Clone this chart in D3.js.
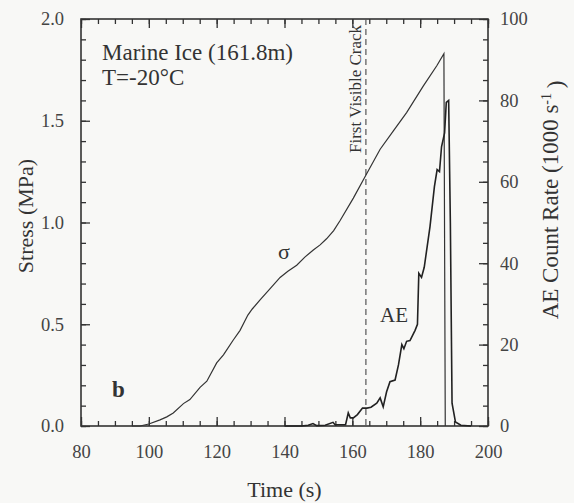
<!DOCTYPE html>
<html>
<head>
<meta charset="utf-8">
<script src="https://cdn.jsdelivr.net/npm/d3@7"></script>
<style>
    body { margin: 0; background: #f8f8f6; }
</style>
</head>
<body>
<div id="chart"></div>
<script>
// stress curve (MPa)
let stress_time  = [95, 97.4, 100, 103.3, 105.3, 107.2, 110.2, 112.1, 115.1, 117.1, 120, 122, 124.8, 126.9, 129.2, 130.5, 132.8, 135.5, 138.7, 141, 143.6, 146, 148.5, 150.5, 152.4, 154.5, 156.4, 160.3, 163.9, 168.2, 172.1, 176, 180.9, 184.9, 187, 187.4];
let stress_value = [0, 0, 0.01, 0.03, 0.045, 0.064, 0.11, 0.13, 0.19, 0.22, 0.31, 0.35, 0.42, 0.47, 0.545, 0.575, 0.62, 0.67, 0.73, 0.76, 0.79, 0.83, 0.865, 0.89, 0.92, 0.96, 1.01, 1.12, 1.23, 1.36, 1.45, 1.54, 1.67, 1.77, 1.83, 0];

// AE count rate (1000 s-1)
let ae_time  = [140, 145, 147, 148.4, 149.5, 152, 154.3, 154.9, 155.5, 158, 158.8, 159.4, 160.3, 161.5, 163, 164.3, 165.5, 167.2, 168.2, 169.1, 170.1, 171.1, 172.6, 173.6, 174.6, 175.2, 176, 177, 178.5, 179.2, 179.6, 180.4, 181.2, 182.9, 184.2, 185, 185.7, 186.3, 187.2, 187.7, 188.4, 188.9, 189.4, 190.4, 192, 195];
let ae_value = [0, 0, 0.2, 0.6, 0.1, 0.2, 0.9, 0.3, 0.3, 0.3, 3.2, 2, 2, 2.8, 4.4, 4.4, 4.6, 5.6, 6.9, 4.7, 8.4, 10.9, 11.3, 15, 20, 19, 20.8, 21, 23.5, 25, 37.5, 36.5, 39, 49, 58.8, 63, 62.5, 68.6, 72, 79.5, 80, 50, 5.6, 1, 0.2, 0];

let crack_time = 164;

// tick labels
let x_ticks = [80, 100, 120, 140, 160, 180, 200];
let y_left_ticks = [0, 0.5, 1.0, 1.5, 2.0];
let y_right_ticks = [0, 20, 40, 60, 80, 100];

let serif = "Liberation Serif";

let width = 574, height = 503;
let margin = {top: 19, right: 86, bottom: 77, left: 81};
let w_plot = width - margin.left - margin.right;
let h_plot = height - margin.top - margin.bottom;

let svg = d3.select("#chart").append("svg")
    .attr("width", width)
    .attr("height", height)
    .attr("font-family", serif);

let g = svg.append("g")
    .attr("transform", "translate(" + margin.left + "," + margin.top + ")");

let x = d3.scaleLinear().domain([80, 200]).range([0, w_plot]);
let y_left = d3.scaleLinear().domain([0, 2]).range([h_plot, 0]);
let y_right = d3.scaleLinear().domain([0, 100]).range([h_plot, 0]);

// minor ticks first, majors on top
function minor_ticks(axis, values) {
    return axis.tickValues(values).tickSize(-5).tickFormat("");
}

let x_minor = d3.range(80, 201, 5);
let yl_minor = d3.range(0, 2.01, 0.1);
let yr_minor = d3.range(0, 101, 5);

g.append("g").attr("transform", "translate(0," + h_plot + ")").call(minor_ticks(d3.axisBottom(x), x_minor));
g.append("g").call(minor_ticks(d3.axisTop(x), x_minor));
g.append("g").call(minor_ticks(d3.axisLeft(y_left), yl_minor));
g.append("g").attr("transform", "translate(" + w_plot + ",0)").call(minor_ticks(d3.axisRight(y_right), yr_minor));

g.append("g")
    .attr("transform", "translate(0," + h_plot + ")")
    .call(d3.axisBottom(x).tickValues(x_ticks).tickSize(-9).tickPadding(19).tickFormat(d3.format("d")));

g.append("g").call(d3.axisTop(x).tickValues(x_ticks).tickSize(-9).tickFormat(""));

g.append("g")
    .call(d3.axisLeft(y_left).tickValues(y_left_ticks).tickSize(-9).tickPadding(17).tickFormat(d3.format(".1f")));

g.append("g")
    .attr("transform", "translate(" + w_plot + ",0)")
    .call(d3.axisRight(y_right).tickValues(y_right_ticks).tickSize(-9).tickPadding(12).tickFormat(d3.format("d")));

g.selectAll(".domain").remove();
// d3 puts font-family="sans-serif" on each axis group
g.selectAll("g").attr("font-family", null);
g.selectAll(".tick line").attr("stroke", "#333").attr("stroke-width", 1.3);
g.selectAll(".tick text")
    .attr("font-family", serif)
    .attr("font-size", 18.5)
    .attr("fill", "#444");

// frame
g.append("rect")
    .attr("width", w_plot)
    .attr("height", h_plot)
    .attr("fill", "none")
    .attr("stroke", "#333")
    .attr("stroke-width", 1.6);

// first visible crack
g.append("line")
    .attr("x1", x(crack_time)).attr("x2", x(crack_time))
    .attr("y1", 0).attr("y2", h_plot)
    .attr("stroke", "#555")
    .attr("stroke-width", 1.2)
    .attr("stroke-dasharray", "6,4");

// curves
let stress_line = d3.line()
    .x(function (d, i) { return x(stress_time[i]); })
    .y(function (d) { return y_left(d); });

let ae_line = d3.line()
    .x(function (d, i) { return x(ae_time[i]); })
    .y(function (d) { return y_right(d); });

g.append("path")
    .datum(stress_value)
    .attr("d", stress_line)
    .attr("fill", "none")
    .attr("stroke", "#333")
    .attr("stroke-width", 1.2);

g.append("path")
    .datum(ae_value)
    .attr("d", ae_line)
    .attr("fill", "none")
    .attr("stroke", "#222")
    .attr("stroke-width", 1.6);

// annotations
function add_text(parent, x_pos, y_pos, size, label) {
    return parent.append("text")
        .attr("x", x_pos).attr("y", y_pos)
        .attr("fill", "#333")
        .attr("font-family", serif)
        .attr("font-size", size)
        .text(label);
}

add_text(g, 21, 41, 23, "Marine Ice (161.8m)");
add_text(g, 21, 66, 23, "T=-20\u00b0C");
add_text(g, 31, 378, 23, "b").attr("font-weight", "bold");
add_text(g, 197, 240, 22, "\u03c3");
add_text(g, 299, 303, 21, "AE");

add_text(g, 0, 0, 17, "First Visible Crack")
    .attr("transform", "translate(" + (x(crack_time) - 5) + "," + 134 + ") rotate(-90)");

// axis titles
add_text(svg, margin.left + w_plot / 2, 497, 22, "Time (s)")
    .attr("text-anchor", "middle");

add_text(svg, 0, 0, 22, "Stress (MPa)")
    .attr("transform", "translate(33,216) rotate(-90)")
    .attr("text-anchor", "middle");

let r_title = add_text(svg, 0, 0, 23, "")
    .attr("transform", "translate(558,200) rotate(-90)")
    .attr("text-anchor", "middle");
r_title.append("tspan").text("AE Count Rate (1000 s");
r_title.append("tspan").attr("dy", "-0.5em").attr("font-size", 14).text("-1");
r_title.append("tspan").attr("dy", "0.5em").text("\u2009)");
</script>
</body>
</html>
